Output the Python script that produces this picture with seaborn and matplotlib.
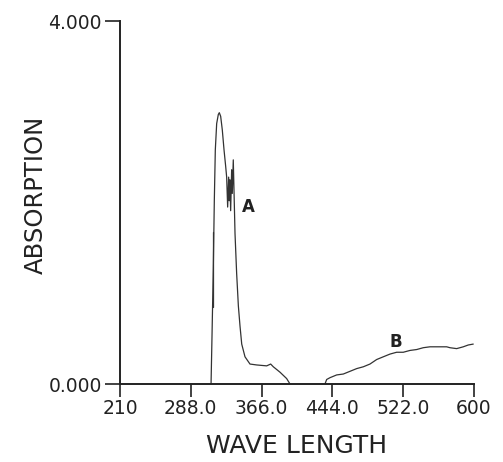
import numpy as np
import pandas as pd
import matplotlib
matplotlib.use("Agg")
import matplotlib.pyplot as plt
import seaborn as sns

# ── Data ─────────────────────────────────────────────────────

wl_a = [310.3, 311.4, 312.8, 313.9, 315.0, 316.5, 318.3, 319.4, 320.9, 322.7,
        324.6, 326.4, 327.5, 328.6, 329.7, 330.4, 331.1, 331.9, 333.0, 333.7,
        334.8, 335.5, 336.7, 338.5, 340.4, 342.2, 344.1, 347.7, 353.2, 360.6,
        371.6, 376.0, 378.9, 386.3, 393.6, 397.3]
abs_a = [0.00, 0.55, 1.29, 2.02, 2.58, 2.87, 2.97, 2.99, 2.95, 2.80,
         2.58, 2.40, 2.28, 1.95, 2.28, 2.02, 2.25, 1.91, 2.36, 2.10,
         2.47, 2.17, 1.66, 1.22, 0.86, 0.64, 0.44, 0.30, 0.22, 0.21,
         0.20, 0.22, 0.19, 0.13, 0.06, 0.00]

# short glitch stroke beside the rising edge of A
wl_spike = [312.3, 312.3]
abs_spike = [1.68, 0.85]

wl_b = [435.8, 437.7, 441.4, 448.7, 456.0, 463.4, 470.8, 478.1, 485.4, 492.8,
        500.1, 507.5, 514.8, 522.1, 529.5, 536.9, 544.1, 551.5, 558.9, 569.9,
        573.6, 580.9, 588.2, 593.7, 599.2]
abs_b = [0.00, 0.05, 0.07, 0.10, 0.11, 0.14, 0.17, 0.19, 0.22, 0.27,
         0.30, 0.33, 0.35, 0.35, 0.37, 0.38, 0.40, 0.41, 0.41, 0.41,
         0.40, 0.39, 0.41, 0.43, 0.44]

x_ticks = [210, 288, 366, 444, 522, 600]
x_tick_labels = ["210", "288.0", "366.0", "444.0", "522.0", "600"]
y_ticks = [0, 4]
y_tick_labels = ["0.000", "4.000"]

# ── Plot ──────────────────────────────────────────────────────

sns.set_style("ticks")
plt.rcParams["font.family"] = ["DejaVu Sans"]

fig = plt.figure(figsize=(5.03, 4.62), dpi=100)
ax = fig.add_axes([0.2386, 0.1688, 0.7037, 0.7857])

line_kw = dict(color="#333333", linewidth=0.9, sort=False, estimator=None, ax=ax)
sns.lineplot(x=wl_a, y=abs_a, **line_kw)
sns.lineplot(x=wl_spike, y=abs_spike, **line_kw)
sns.lineplot(x=wl_b, y=abs_b, **line_kw)

ax.text(351, 1.95, "A", fontsize=12, fontweight="bold", color="#222222",
        ha="center", va="center")
ax.text(514, 0.46, "B", fontsize=12, fontweight="bold", color="#222222",
        ha="center", va="center")

ax.set_xlim(210, 600)
ax.set_ylim(0, 4)
ax.set_xticks(x_ticks)
ax.set_xticklabels(x_tick_labels)
ax.set_yticks(y_ticks)
ax.set_yticklabels(y_tick_labels)
ax.tick_params(axis="both", direction="out", length=9, width=1.2,
               colors="#222222", labelsize=13.5, pad=2)
ax.tick_params(axis="y", length=11)

for side in ["left", "bottom"]:
    ax.spines[side].set_linewidth(1.4)
    ax.spines[side].set_color("#222222")
sns.despine(ax=ax)

ax.set_xlabel("WAVE LENGTH", fontsize=18, color="#222222", labelpad=11)
ax.set_ylabel("ABSORPTION", fontsize=17.5, color="#222222", labelpad=4)
ax.yaxis.set_label_coords(-0.205, 0.52)

fig.savefig("out.png", dpi=100)
plt.close(fig)
